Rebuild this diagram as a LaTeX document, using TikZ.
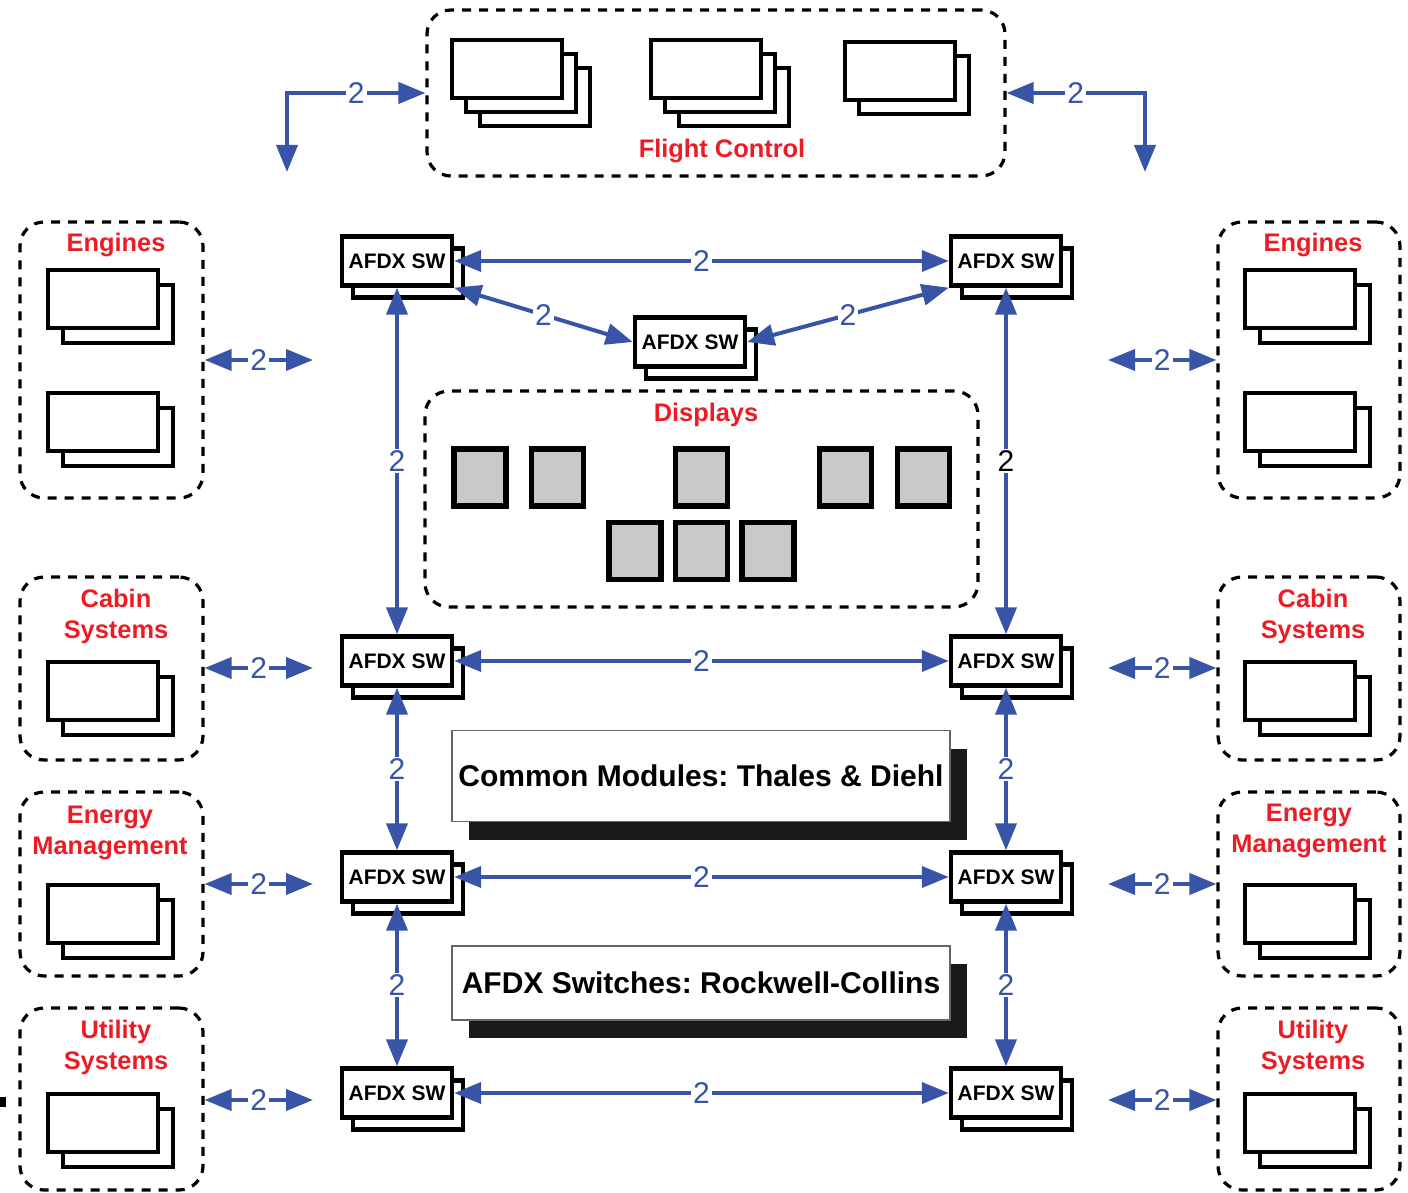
\documentclass[tikz,border=0pt]{standalone}
\usepackage{fontspec}
\setmainfont{Liberation Sans}
\frenchspacing
\usetikzlibrary{arrows.meta,shadows}
\definecolor{netblue}{RGB}{56,84,166}
\definecolor{grpred}{RGB}{237,28,36}
\definecolor{dispgray}{RGB}{200,201,203}
\tikzset{
  grp/.style={draw,dash pattern=on 4.5pt off 4pt,line width=1.6pt,rounded corners=12pt,inner sep=0pt},
  gname/.style={text=grpred,font=\fontsize{12.7}{15.5}\selectfont\bfseries,align=center},
  unit/.style={draw,line width=2.4pt,fill=white,minimum width=55pt,minimum height=29pt,inner sep=0pt},
  back/.style={copy shadow={shadow xshift=#1,shadow yshift=-#1,draw=black,fill=white,line width=2.4pt}},
  sw/.style={draw,line width=2.2pt,fill=white,minimum width=55pt,minimum height=24.5pt,inner sep=0pt,
    font=\fontsize{10.5}{12}\selectfont\bfseries,
    copy shadow={shadow xshift=5.5pt,shadow yshift=-6pt,draw=black,fill=white,line width=2.2pt}},
  disp/.style={draw,line width=2.6pt,fill=dispgray,minimum width=26pt,minimum height=28.5pt,inner sep=0pt},
  mods/.style={draw=black!60,line width=0.7pt,fill=white,minimum width=249pt,inner sep=0pt,
    font=\fontsize{15}{18}\selectfont\bfseries,
    copy shadow={shadow xshift=8.5pt,shadow yshift=-9pt,draw=none,fill=black!90}},
  link/.style={netblue,line width=2pt,<->},
  lab/.style={fill=white,inner sep=1pt,text=netblue,font=\fontsize{15}{17}\selectfont}
}

\begin{document}
\begin{tikzpicture}[x=0.5pt,y=-0.5pt,>={Triangle[length=13.5pt,width=10.5pt]}]
\useasboundingbox (0,0) rectangle (1408,1193);

% flight control
\node[grp,minimum width=289pt,minimum height=83pt] at (716,93) (fc) {};
\node[unit,back=14pt,back=7pt] at (507,69) (fc1) {};
\node[unit,back=14pt,back=7pt] at (706,69) (fc2) {};
\node[unit,back=7pt] at (900,71) (fc3) {};
\node[gname] at (722,151) (fcname) {Flight Control};
\coordinate (fcL) at (287,172);
\coordinate (fcR) at (1145,172);

% left side
\node[grp,minimum width=91.5pt,minimum height=138pt] at (111.5,360) (engL) {};
\node[gname] at (116,245) {Engines};
\node[unit,back=7.5pt] at (103,299) (engL1) {};
\node[unit,back=7.5pt] at (103,422) (engL2) {};
\node[grp,minimum width=91.5pt,minimum height=91.5pt] at (111.5,668.5) (cabL) {};
\node[gname] at (116,616) {Cabin\\Systems};
\node[unit,back=7.5pt] at (103,691) (cabL1) {};
\node[grp,minimum width=91.5pt,minimum height=92pt] at (111.5,884) (enL) {};
\node[gname] at (110,833) {Energy\\Management};
\node[unit,back=7.5pt] at (103,914) (enL1) {};
\node[grp,minimum width=91.5pt,minimum height=91pt] at (111.5,1099) (utL) {};
\node[gname] at (116,1047) {Utility\\Systems};
\node[unit,back=7.5pt] at (103,1123) (utL1) {};
\fill (0,1097) rectangle (6,1107);

% right side
\node[grp,minimum width=91pt,minimum height=138pt] at (1309,360) (engR) {};
\node[gname] at (1313,245) {Engines};
\node[unit,back=7.5pt] at (1300,299) (engR1) {};
\node[unit,back=7.5pt] at (1300,422) (engR2) {};
\node[grp,minimum width=91pt,minimum height=91.5pt] at (1309,668.5) (cabR) {};
\node[gname] at (1313,616) {Cabin\\Systems};
\node[unit,back=7.5pt] at (1300,691) (cabR1) {};
\node[grp,minimum width=91pt,minimum height=92pt] at (1309,884) (enR) {};
\node[gname] at (1309,831) {Energy\\Management};
\node[unit,back=7.5pt] at (1300,914) (enR1) {};
\node[grp,minimum width=91pt,minimum height=91pt] at (1309,1099) (utR) {};
\node[gname] at (1313,1047) {Utility\\Systems};
\node[unit,back=7.5pt] at (1300,1123) (utR1) {};

% displays
\node[grp,minimum width=276.5pt,minimum height=108pt] at (701.5,499) (dsp) {};
\node[gname] at (706,415) {Displays};
\foreach \x/\n in {480/1,557.5/2,701.5/3,845.5/4,923.5/5}
  \node[disp] at (\x,477.5) (d\n) {};
\foreach \x/\n in {635/6,701.5/7,768/8}
  \node[disp] at (\x,551) (d\n) {};

% suppliers
\node[mods,minimum height=45.5pt] at (701,776) (cm) {Common Modules: Thales \& Diehl};
\node[mods,minimum height=37pt] at (701,983) (rc) {AFDX Switches: Rockwell-Collins};

% switches
\node[sw] at (397,261) (swL1) {AFDX SW};
\node[sw] at (397,661) (swL2) {AFDX SW};
\node[sw] at (397,877) (swL3) {AFDX SW};
\node[sw] at (397,1093) (swL4) {AFDX SW};
\node[sw] at (1006,261) (swR1) {AFDX SW};
\node[sw] at (1006,661) (swR2) {AFDX SW};
\node[sw] at (1006,877) (swR3) {AFDX SW};
\node[sw] at (1006,1093) (swR4) {AFDX SW};
\node[sw] at (690,342) (swM) {AFDX SW};

% links
\draw[link] (swL1) -- node[lab]{2} (swR1);
\draw[link] (swL2) -- node[lab]{2} (swR2);
\draw[link] (swL3) -- node[lab]{2} (swR3);
\draw[link] (swL4) -- node[lab]{2} (swR4);
\draw[link] (swL1.south east) -- node[lab]{2} (swM.west);
\draw[link] (swM.east) -- node[lab]{2} (swR1.south west);
\draw[link] (swL1) -- node[lab]{2} (swL2);
\draw[link] (swL2) -- node[lab]{2} (swL3);
\draw[link] (swL3) -- node[lab]{2} (swL4);
\draw[link] (swR1) -- node[lab,text=black]{2} (swR2);
\draw[link] (swR2) -- node[lab]{2} (swR3);
\draw[link] (swR3) -- node[lab]{2} (swR4);
\draw[link] (fc.west) -- node[lab]{2} (fcL |- fc.west) -- (fcL);
\draw[link] (fc.east) -- node[lab]{2} (fcR |- fc.east) -- (fcR);

% side links
\foreach \g/\y in {engL/360,cabL/668,enL/884,utL/1100}
  \draw[link] (\g.east |- 0,\y) -- node[lab]{2} (313,\y);
\foreach \g/\y in {engR/360,cabR/668,enR/884,utR/1100}
  \draw[link] (1108,\y) -- node[lab]{2} (\g.west |- 0,\y);

\end{tikzpicture}
\end{document}
